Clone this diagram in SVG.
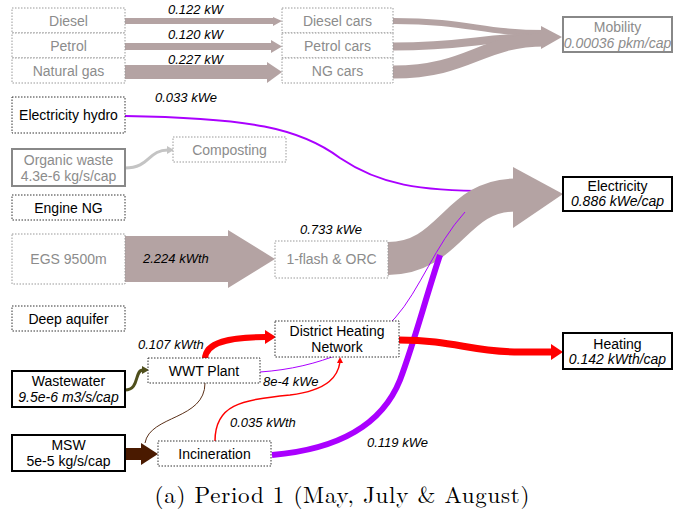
<svg xmlns="http://www.w3.org/2000/svg" width="673" height="515" viewBox="0 0 673 515">
<style>
text{font-family:"Liberation Sans",Arial,sans-serif;font-size:14px;text-anchor:middle}
.g{fill:#8c8c8c}
.k{fill:#000}
.lbl{font-style:italic;font-size:13px;fill:#000;text-anchor:start}
.it{font-style:italic}
.dg{fill:#fff;stroke:#999;stroke-width:1;stroke-dasharray:1.5,1.5}
.dk{fill:#fff;stroke:#333;stroke-width:1;stroke-dasharray:1.5,1.5}
.sk{fill:#fff;stroke:#000;stroke-width:2}
.sg{fill:#fff;stroke:#888;stroke-width:2}
.flow{fill:#b4a3a3}
.cap{font-family:"Latin Modern Roman","Liberation Serif","DejaVu Serif",serif;font-size:23px;fill:#000}
</style>
<g id="connectors">
  <!-- top fuel arrows -->
  <rect class="flow" x="125" y="18" width="149" height="6"/>
  <polygon class="flow" points="273,17 282,21 273,26"/>
  <rect class="flow" x="125" y="43" width="147" height="7"/>
  <polygon class="flow" points="271,40 282,46.5 271,53"/>
  <rect class="flow" x="125" y="65" width="143" height="14"/>
  <polygon class="flow" points="267,62 282,72 267,83"/>
  <!-- merge to mobility -->
  <path d="M393,21 C470,21 480,33 545,33" fill="none" stroke="#b4a3a3" stroke-width="6"/>
  <path d="M393,46.5 C470,46.5 480,37 545,37" fill="none" stroke="#b4a3a3" stroke-width="8"/>
  <path d="M393,72 C470,72 480,40 545,40" fill="none" stroke="#b4a3a3" stroke-width="13"/>
  <polygon class="flow" points="541,26 562,37 541,49"/>
  <!-- composting -->
  <path d="M125,168 C150,168 148,150 168,150" fill="none" stroke="#c4c4c4" stroke-width="3"/>
  <polygon points="167,146 174,150 167,154" fill="#c4c4c4"/>
  <!-- EGS arrow -->
  <rect class="flow" x="125" y="236" width="104" height="46"/>
  <polygon class="flow" points="228,230 275,259 228,288"/>
  <!-- purple thin from hydro -->
  <path d="M125,116 C250,118 300,128 340,158 C380,185 420,191 490,191" fill="none" stroke="#aa00ff" stroke-width="2"/>
  <!-- big electricity arrow -->
  <path d="M388,258.5 C450,258.5 455,195 515,195" fill="none" stroke="#b4a3a3" stroke-width="33"/>
  <polygon class="flow" points="513,167 563,194 513,228"/>
  <!-- thin purple 8e-4 -->
  <path d="M260,372 C320,368 370,345 395,318 C420,290 435,245 465,212" fill="none" stroke="#aa00ff" stroke-width="1"/>
  <!-- thick purple from incineration -->
  <path d="M272,455 C330,450 380,430 400,380 C415,340 425,300 440,255" fill="none" stroke="#aa00ff" stroke-width="6"/>
  <!-- red WWT to DHN -->
  <path d="M205,359 C205,342 230,337 266,337" fill="none" stroke="#ff0000" stroke-width="6"/>
  <polygon points="265,330 276,337 265,344" fill="#ff0000"/>
  <!-- red DHN to heating -->
  <path d="M399,340 C455,340 470,352 520,352 L552,352" fill="none" stroke="#ff0000" stroke-width="7"/>
  <polygon points="551,344 563,352 551,360" fill="#ff0000"/>
  <!-- red thin incineration to DHN -->
  <path d="M215,441 C215,405 240,400 290,395 C330,390 338,375 340,362" fill="none" stroke="#ff0000" stroke-width="1.5"/>
  <polygon points="337,363 340,357 343,363" fill="#ff0000"/>
  <!-- brown thin WWT to incineration -->
  <path d="M205,383 C205,420 150,415 145,443" fill="none" stroke="#5a3018" stroke-width="1"/>
  <!-- olive wastewater -->
  <path d="M125,390 C140,390 134,370 143,370" fill="none" stroke="#4f4f1c" stroke-width="3"/>
  <polygon points="142,366 149,370 142,374" fill="#4f4f1c"/>
  <!-- MSW arrow -->
  <rect x="125" y="448" width="18" height="12" fill="#4a1a00"/>
  <polygon points="141,443 158,454 141,465" fill="#4a1a00"/>
</g>
<g id="edge-labels">
  <text class="lbl" x="168" y="14">0.122 kW</text>
  <text class="lbl" x="168" y="39">0.120 kW</text>
  <text class="lbl" x="168" y="64">0.227 kW</text>
  <text class="lbl" x="155" y="102">0.033 kWe</text>
  <text class="lbl" x="143" y="263">2.224 kWth</text>
  <text class="lbl" x="300" y="234">0.733 kWe</text>
  <text class="lbl" x="138" y="349">0.107 kWth</text>
  <text class="lbl" x="263" y="386">8e-4 kWe</text>
  <text class="lbl" x="230" y="427">0.035 kWth</text>
  <text class="lbl" x="367" y="447">0.119 kWe</text>
</g>
<g id="diesel"><rect class="dg" x="12" y="8" width="113" height="25"/><text class="g" x="68.5" y="26">Diesel</text></g>
<g id="petrol"><rect class="dg" x="12" y="33" width="113" height="25"/><text class="g" x="68.5" y="51">Petrol</text></g>
<g id="natural-gas"><rect class="dg" x="12" y="58" width="113" height="25"/><text class="g" x="68.5" y="76">Natural gas</text></g>
<g id="diesel-cars"><rect class="dg" x="282" y="8" width="111" height="25"/><text class="g" x="337.5" y="26">Diesel cars</text></g>
<g id="petrol-cars"><rect class="dg" x="282" y="33" width="111" height="25"/><text class="g" x="337.5" y="51">Petrol cars</text></g>
<g id="ng-cars"><rect class="dg" x="282" y="58" width="111" height="25"/><text class="g" x="337.5" y="76">NG cars</text></g>
<g id="mobility"><rect class="sg" x="563" y="17" width="109" height="35"/><text class="g" x="617.5" y="32">Mobility</text><text class="g it" x="617.5" y="48">0.00036 pkm/cap</text></g>
<g id="electricity-hydro"><rect class="dk" x="12" y="97" width="113" height="36"/><text class="k" x="68.5" y="120">Electricity hydro</text></g>
<g id="organic-waste"><rect class="sg" x="12" y="149" width="113" height="37"/><text class="g" x="68.5" y="165">Organic waste</text><text class="g" x="68.5" y="181">4.3e-6 kg/s/cap</text></g>
<g id="composting"><rect class="dg" x="173" y="137" width="113" height="25"/><text class="g" x="229.5" y="155">Composting</text></g>
<g id="engine-ng"><rect class="dk" x="12" y="195" width="113" height="25"/><text class="k" x="68.5" y="213">Engine NG</text></g>
<g id="egs"><rect class="dg" x="12" y="234" width="113" height="50"/><text class="g" x="68.5" y="264">EGS 9500m</text></g>
<g id="flash-orc"><rect class="dg" x="275" y="241" width="113" height="37"/><text class="g" x="331.5" y="264">1-flash &amp; ORC</text></g>
<g id="electricity"><rect class="sk" x="563" y="177" width="109" height="34"/><text class="k" x="617.5" y="191">Electricity</text><text class="k it" x="617.5" y="206">0.886 kWe/cap</text></g>
<g id="deep-aquifer"><rect class="dk" x="12" y="306" width="113" height="25"/><text class="k" x="68.5" y="324">Deep aquifer</text></g>
<g id="dhn"><rect class="dk" x="275" y="321" width="124" height="36"/><text class="k" x="337" y="336">District Heating</text><text class="k" x="337" y="352">Network</text></g>
<g id="heating"><rect class="sk" x="563" y="333" width="109" height="36"/><text class="k" x="617.5" y="349">Heating</text><text class="k it" x="617.5" y="364">0.142 kWth/cap</text></g>
<g id="wwt-plant"><rect class="dk" x="148" y="358" width="112" height="25"/><text class="k" x="204" y="376">WWT Plant</text></g>
<g id="wastewater"><rect class="sk" x="12" y="371" width="113" height="36"/><text class="k" x="68.5" y="386">Wastewater</text><text class="k it" x="68.5" y="402">9.5e-6 m3/s/cap</text></g>
<g id="msw"><rect class="sk" x="12" y="435" width="113" height="36"/><text class="k" x="68.5" y="450">MSW</text><text class="k" x="68.5" y="466">5e-5 kg/s/cap</text></g>
<g id="incineration"><rect class="dk" x="158" y="441" width="113" height="25"/><text class="k" x="214.5" y="459">Incineration</text></g>
<text class="cap" x="342" y="503" textLength="375" lengthAdjust="spacing">(a) Period 1 (May, July &amp; August)</text>
</svg>
